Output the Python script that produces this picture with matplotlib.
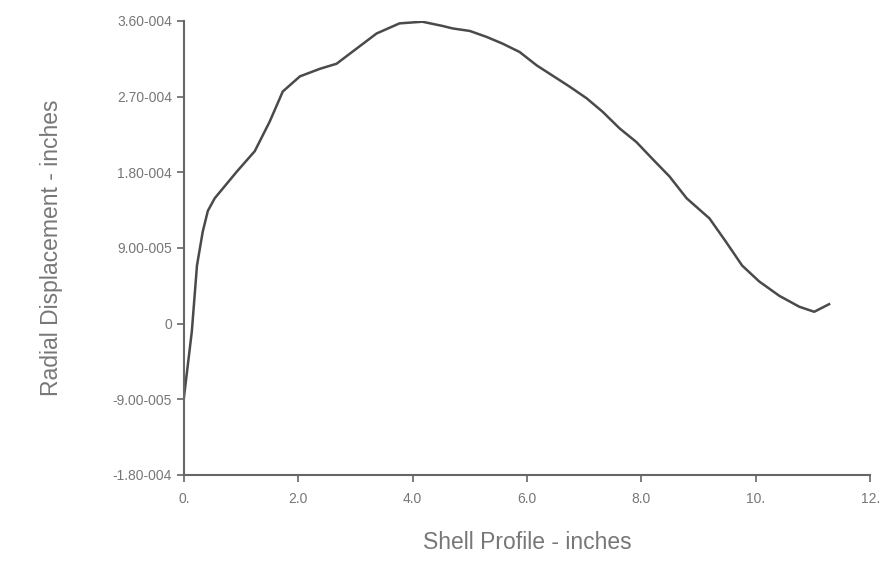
import matplotlib.pyplot as plt

# shell profile position (inches) and radial displacement (inches)
profile = [0.0, 0.14, 0.23, 0.33, 0.42, 0.54, 0.93, 1.24, 1.50, 1.73, 2.03, 2.38,
           2.67, 3.02, 3.37, 3.77, 4.17, 4.52, 4.70, 5.00, 5.29, 5.57, 5.87, 6.17,
           6.74, 7.04, 7.32, 7.62, 7.91, 8.19, 8.49, 8.79, 9.19, 9.48, 9.76, 10.06,
           10.41, 10.76, 11.02, 11.28]
displacement = [-8.9e-5, -0.95e-5, 6.9e-5, 10.9e-5, 13.4e-5, 14.9e-5, 18.1e-5, 20.5e-5,
                24.0e-5, 27.6e-5, 29.4e-5, 30.3e-5, 30.9e-5, 32.7e-5, 34.5e-5, 35.7e-5,
                35.9e-5, 35.4e-5, 35.1e-5, 34.8e-5, 34.1e-5, 33.3e-5, 32.3e-5, 30.7e-5,
                28.2e-5, 26.8e-5, 25.2e-5, 23.2e-5, 21.6e-5, 19.6e-5, 17.5e-5, 14.9e-5,
                12.5e-5, 9.7e-5, 6.9e-5, 5.0e-5, 3.3e-5, 2.0e-5, 1.4e-5, 2.3e-5]

x_ticks = [0, 2, 4, 6, 8, 10, 12]
x_labels = ["0.", "2.0", "4.0", "6.0", "8.0", "10.", "12."]
y_ticks = [-1.8e-4, -9e-5, 0, 9e-5, 1.8e-4, 2.7e-4, 3.6e-4]
y_labels = ["-1.80-004", "-9.00-005", "0", "9.00-005", "1.80-004", "2.70-004", "3.60-004"]

plt.rcParams['font.family'] = ['Liberation Sans', 'DejaVu Sans']

fig = plt.figure(figsize=(8.88, 5.64), dpi=100)
axes = fig.add_axes([0.207, 0.158, 0.773, 0.805])
axes.plot(profile, displacement, color='#4a4a4a', linewidth=1.8)

axes.set_xlim(0, 12)
axes.set_ylim(-1.8e-4, 3.6e-4)
axes.set_xticks(x_ticks)
axes.set_xticklabels(x_labels)
axes.set_yticks(y_ticks)
axes.set_yticklabels(y_labels)

for side in ['top', 'right']:
    axes.spines[side].set_visible(False)
for side in ['left', 'bottom']:
    axes.spines[side].set_color('#666666')
    axes.spines[side].set_linewidth(1.5)

axes.tick_params(colors='#666666', labelcolor='#777777', labelsize=10, length=5, width=1.2)
axes.tick_params(axis='x', pad=7)
axes.set_xlabel('Shell Profile - inches', color='#777777', fontsize=16.5, labelpad=18)
axes.set_ylabel('Radial Displacement - inches', color='#777777', fontsize=16.5, labelpad=36)

fig.savefig('out.png', dpi=100)
